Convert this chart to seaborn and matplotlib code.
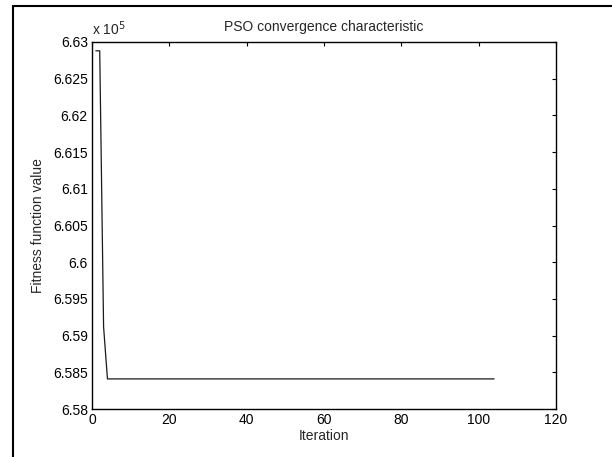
import matplotlib
matplotlib.use("Agg")
import matplotlib.pyplot as plt
from matplotlib.lines import Line2D
from matplotlib.ticker import FuncFormatter
import seaborn as sns

# best fitness per iteration (only the points where the value changes)
iterations = [1, 2, 3, 4, 104]
fitness = [6.6288e5, 6.6288e5, 6.5912e5, 6.5841e5, 6.5841e5]

x_ticks = [0, 20, 40, 60, 80, 100, 120]
y_ticks = [6.58e5, 6.585e5, 6.59e5, 6.595e5, 6.60e5, 6.605e5,
           6.61e5, 6.615e5, 6.62e5, 6.625e5, 6.63e5]

sns.set_style("white")
plt.rcParams["font.family"] = ["Liberation Sans", "DejaVu Sans"]
plt.rcParams["font.size"] = 10

fig = plt.figure(figsize=(6.12, 4.57), dpi=100)
ax = fig.add_axes([0.1503, 0.105, 0.7582, 0.8031])

sns.lineplot(x=iterations, y=fitness, color="#1a1a1a", linewidth=0.9, ax=ax)

ax.set_xlim(0, 120)
ax.set_ylim(6.58e5, 6.63e5)
ax.set_xticks(x_ticks)
ax.set_yticks(y_ticks)
ax.yaxis.set_major_formatter(FuncFormatter(lambda v, p: f"{v / 1e5:g}"))
ax.tick_params(direction="in", top=True, right=True, length=3, width=0.8,
               labelsize=10, colors="black", pad=3)
for s in ax.spines.values():
    s.set_color("black")
    s.set_linewidth(1.0)

ax.text(0.0, 1.012, r"x 10$^5$", transform=ax.transAxes, fontsize=10,
        ha="left", va="bottom")
ax.set_title("PSO convergence characteristic", fontsize=10, pad=8)
ax.set_xlabel("Iteration", fontsize=10, labelpad=1)
ax.set_ylabel("Fitness function value", fontsize=10, labelpad=6)

# outer frame (left and top edges)
fig.add_artist(Line2D([13 / 612, 13 / 612], [0, 1 - 6 / 457], color="black", linewidth=1.5))
fig.add_artist(Line2D([13 / 612, 1], [1 - 6 / 457, 1 - 6 / 457], color="black", linewidth=1.5))

fig.savefig("out.png", dpi=100)
